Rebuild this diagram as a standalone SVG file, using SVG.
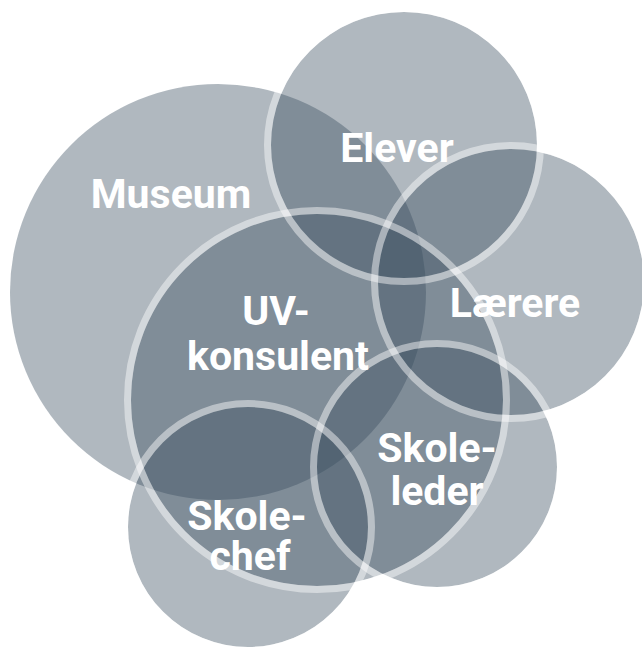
<svg xmlns="http://www.w3.org/2000/svg" width="642" height="647" viewBox="0 0 642 647">
  <style>
    .disc { fill: #3a4d5f; fill-opacity: 0.4; }
    .ring { fill: none; stroke: #ffffff; stroke-opacity: 0.45; stroke-width: 7; }
    .label { font-family: Roboto, "Liberation Sans", sans-serif; font-weight: 700; font-size: 41px; fill: #ffffff; text-anchor: middle; }
  </style>
  <rect width="642" height="647" fill="#ffffff"/>

  <!-- translucent discs, one per stakeholder -->
  <g id="node-museum"><circle class="disc" cx="218" cy="292" r="208"/></g>
  <g id="node-elever"><circle class="disc" cx="404" cy="145" r="133"/></g>
  <g id="node-laerere"><circle class="disc" cx="511" cy="282" r="133"/></g>
  <g id="node-uv-konsulent"><circle class="disc" cx="317" cy="400" r="186"/></g>
  <g id="node-skoleleder"><circle class="disc" cx="437" cy="467" r="120"/></g>
  <g id="node-skolechef"><circle class="disc" cx="248" cy="527" r="120"/></g>

  <!-- light bands just outside each disc edge, drawn above all discs -->
  <g id="outlines">
    <circle class="ring" cx="404" cy="145" r="136.5"/>
    <circle class="ring" cx="511" cy="282" r="136.5"/>
    <circle class="ring" cx="317" cy="400" r="189.5"/>
    <circle class="ring" cx="437" cy="467" r="123.5"/>
    <circle class="ring" cx="248" cy="527" r="123.5"/>
  </g>

  <g id="labels">
    <text id="label-museum" class="label" x="171" y="208">Museum</text>
    <text id="label-elever" class="label" x="397" y="162">Elever</text>
    <text id="label-laerere" class="label" x="515" y="317">Lærere</text>
    <text id="label-uv-konsulent" class="label"><tspan x="276" y="325">UV-</tspan><tspan x="278" y="370">konsulent</tspan></text>
    <text id="label-skoleleder" class="label"><tspan x="437" y="462">Skole-</tspan><tspan x="437" y="505">leder</tspan></text>
    <text id="label-skolechef" class="label"><tspan x="247" y="530">Skole-</tspan><tspan x="250" y="570">chef</tspan></text>
  </g>
</svg>
